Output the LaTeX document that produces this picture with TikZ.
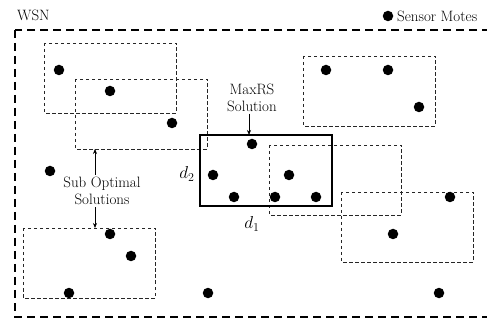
\documentclass[tikz,border=0pt]{standalone}
\usetikzlibrary{arrows.meta}
\begin{document}
\begin{tikzpicture}[x=1pt,y=-1pt,
  mote/.style={circle,fill=black,inner sep=0pt,minimum size=10.5pt},
  subbox/.style={draw=black!85,dash pattern=on 3.5pt off 2.5pt,line width=0.9pt},
  maxbox/.style={draw=black,line width=2.4pt},
  outer/.style={draw=black,dash pattern=on 8pt off 5pt,line width=2.6pt},
  lbl/.style={font=\fontsize{15}{17}\selectfont,align=center,inner sep=0pt},
  dim/.style={font=\fontsize{18}{20}\selectfont,inner sep=0pt},
  arr/.style={-{Stealth[length=5pt,width=4pt]},line width=0.7pt}]
\useasboundingbox (0,0) rectangle (487,320);
% outer WSN region
\draw[outer] (15,30) rectangle (492,317);
\node[lbl,anchor=west] (wsn) at (17,15) {WSN};
% legend
\node[mote] (leg) at (388,16) {};
\node[lbl,anchor=west] (legt) at (397,16.5) {Sensor Motes};
% sub optimal boxes
\draw[subbox] (44,43) rectangle (176,113);
\draw[subbox] (75,79) rectangle (207,149);
\draw[subbox] (303,56) rectangle (435,126);
\draw[subbox] (269,145) rectangle (401,215);
\draw[subbox] (341,192) rectangle (473,262);
\draw[subbox] (23,228) rectangle (155,298);
% MaxRS box
\draw[maxbox] (200,135) rectangle (332,206);
\coordinate (maxtop) at (249,135);
\coordinate (r2bot) at (95,149);
\coordinate (r6top) at (95,228);
% motes
\foreach \n/\p in {a/{(59,70)},b/{(110,91)},c/{(172,123)},
  d/{(326,70)},e/{(388,70)},f/{(419,107)},
  g/{(252,144)},h/{(213,175)},i/{(289,175)},j/{(234,197)},k/{(275,197)},l/{(316,197)},
  m/{(50,171)},n/{(110,234)},o/{(131,256)},p/{(69,293)},q/{(208,293)},
  r/{(450,197)},s/{(393,234)},t/{(439,293)}}
  \node[mote] (m\n) at \p {};
% labels
\node[lbl] (maxrs) at (252,97.5) {MaxRS\\Solution};
\node[lbl] (subopt) at (102,191) {Sub Optimal\\Solutions};
\node[dim] (d2) at (187,174) {$d_2$};
\node[dim] (d1) at (252,224) {$d_1$};
% arrows
\draw[arr] (maxrs.south -| maxtop) ++(0,2) -- (maxtop);
\draw[arr] (subopt.north -| r2bot) ++(0,-2) -- (r2bot);
\draw[arr] (subopt.south -| r6top) ++(0,2) -- (r6top);
\end{tikzpicture}
\end{document}
